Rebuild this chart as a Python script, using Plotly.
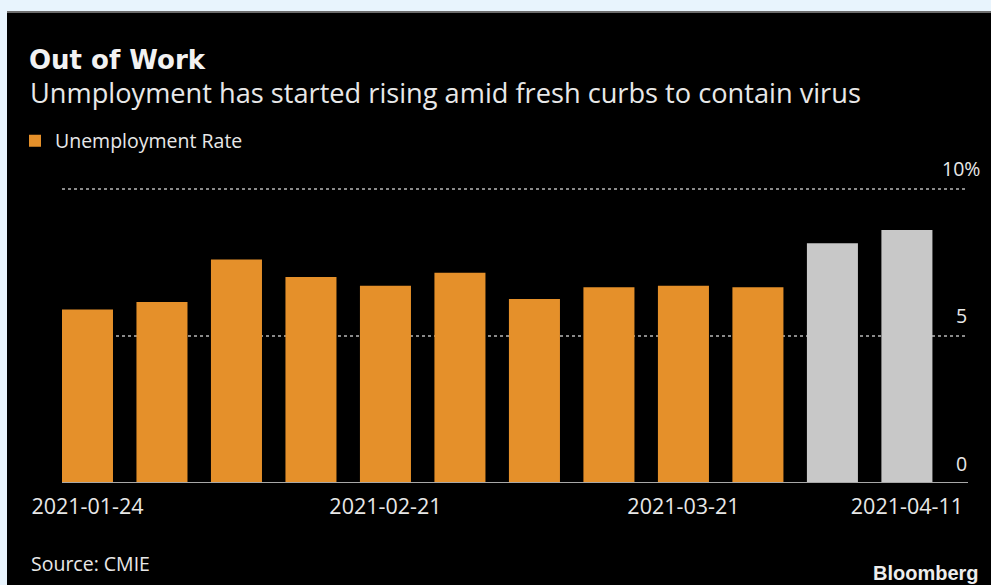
import plotly.graph_objects as go

# ---- data ----
weeks = ["2021-01-24", "2021-01-31", "2021-02-07", "2021-02-14", "2021-02-21",
         "2021-02-28", "2021-03-07", "2021-03-14", "2021-03-21", "2021-03-28",
         "2021-04-04", "2021-04-11"]
unemployment_rate = [5.9, 6.15, 7.6, 7.0, 6.7, 7.15, 6.25, 6.65, 6.7, 6.65, 8.15, 8.6]
tick_weeks = ["2021-01-24", "2021-02-21", "2021-03-21", "2021-04-11"]
y_ticks = [0, 5, 10]
y_tick_text = ["0", "5", "10%"]

# ---- style ----
W, H = 991, 585
L, R, T, B = 62, 23, 177, 102
PW, PH = W - L - R, H - T - B
Y_MAX = 10.4
ORANGE = "#E5902A"
GRAY = "#C8C8C8"
BG = "#000000"
FRAME = "#E8F4FD"
TXT = "#E8E8E8"
REG = "Open Sans"


def px2x(px):
    return (px - L) / PW


def py2y(py):
    return (H - B - py) / PH


colors = [ORANGE if i < 10 else GRAY for i in range(len(weeks))]

fig = go.Figure()
fig.add_trace(go.Bar(
    x=weeks, y=unemployment_rate, name="Unemployment Rate",
    marker=dict(color=colors, line=dict(width=0)),
    showlegend=True,
))

annotations = []
# subtitle
annotations.append(dict(
    text="Unmployment has started rising amid fresh curbs to contain virus",
    xref="paper", yref="paper", x=px2x(28), y=py2y(92),
    xanchor="left", yanchor="middle", showarrow=False,
    font=dict(family=REG, size=27.2, color=TXT)))
# y tick labels
for v, t in zip(y_ticks, y_tick_text):
    right_px = 982 if t.endswith("%") else 969
    annotations.append(dict(
        text=t, xref="paper", yref="y", x=px2x(right_px), y=v, yshift=20,
        xanchor="right", yanchor="middle", showarrow=False,
        font=dict(family=REG, size=19.5, color=TXT)))
# source
annotations.append(dict(
    text="Source: CMIE", xref="paper", yref="paper", x=px2x(29), y=py2y(563),
    xanchor="left", yanchor="middle", showarrow=False,
    font=dict(family=REG, size=19.5, color=TXT)))
annotations.append(dict(
    text="<b>Bloomberg</b>", xref="paper", yref="paper", x=px2x(981), y=py2y(572.5),
    xanchor="right", yanchor="middle", showarrow=False,
    font=dict(family="Liberation Sans", size=20, color="#EDEDED")))

shapes = [
    # light frame top and left
    dict(type="rect", xref="paper", yref="paper", x0=px2x(-2), x1=px2x(W + 2),
         y0=py2y(-2), y1=py2y(11), fillcolor=FRAME, line=dict(width=0), layer="above"),
    dict(type="rect", xref="paper", yref="paper", x0=px2x(-2), x1=px2x(7),
         y0=py2y(-2), y1=py2y(H + 2), fillcolor=FRAME, line=dict(width=0), layer="above"),
    dict(type="line", xref="paper", yref="paper", x0=px2x(7), x1=px2x(W + 2),
         y0=py2y(12), y1=py2y(12), line=dict(color="#6E6E6E", width=2), layer="above"),
    # baseline
    dict(type="line", xref="paper", yref="y", x0=0, x1=1, y0=0, y1=0,
         line=dict(color="#A8A8A8", width=2), layer="above"),
]

fig.update_layout(
    width=W, height=H,
    margin=dict(l=L, r=R, t=T, b=B, pad=0),
    paper_bgcolor=BG, plot_bgcolor=BG,
    bargap=0.315,
    title=dict(text="<b>Out of Work</b>", xref="container", yref="container",
               x=29 / W, y=1 - 60 / H, xanchor="left", yanchor="middle",
               font=dict(family="DejaVu Sans", size=26, color="#F2F2F2")),
    legend=dict(x=px2x(15), y=py2y(141), xanchor="left", yanchor="middle",
                orientation="h", bgcolor="rgba(0,0,0,0)",
                font=dict(family=REG, size=19.5, color=TXT)),
    xaxis=dict(type="category", range=[-0.342, 11.82], tickvals=tick_weeks,
               ticktext=tick_weeks, ticks="", showgrid=False, zeroline=False,
               showline=False, ticklabelstandoff=8,
               tickfont=dict(family=REG, size=21.5, color=TXT)),
    yaxis=dict(range=[0, Y_MAX], tickvals=y_ticks, showticklabels=False,
               showgrid=True, gridcolor="#8A8A8A", griddash="dot", gridwidth=1.5,
               zeroline=False, showline=False, ticks=""),
    annotations=annotations,
    shapes=shapes,
    font=dict(family=REG, color=TXT),
)

fig.write_html("out.html")
